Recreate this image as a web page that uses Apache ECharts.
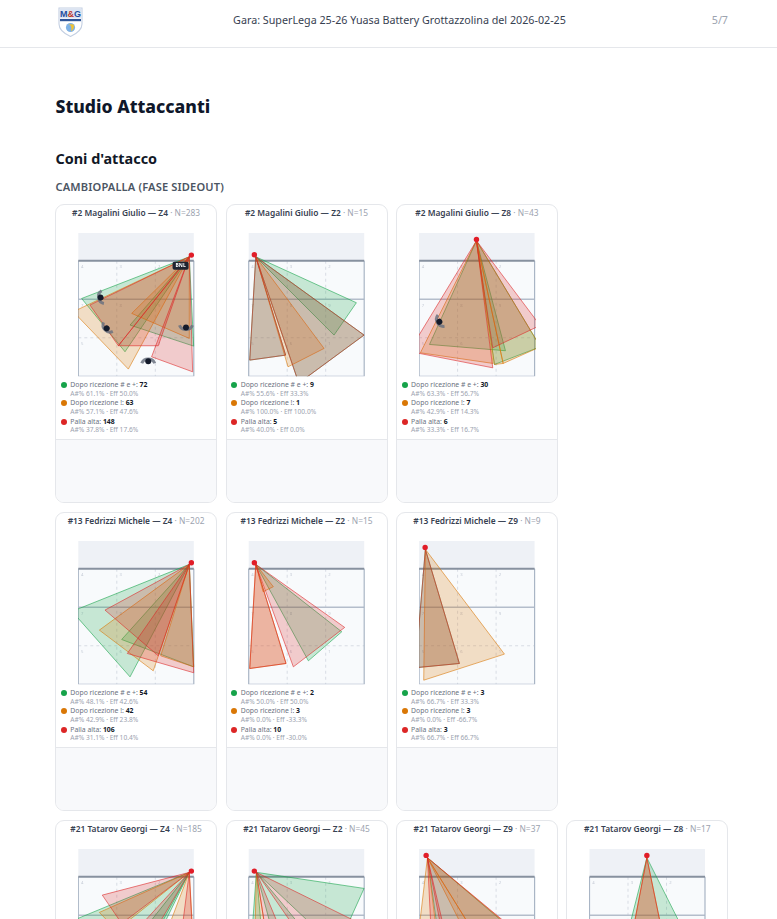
<!DOCTYPE html>
<html><head><meta charset="utf-8">
<script src="https://cdn.jsdelivr.net/npm/echarts@6/dist/echarts.min.js"></script>
<style>
html,body{margin:0;padding:0;width:777px;height:919px;overflow:hidden;background:#fff;font-family:"Noto Sans",sans-serif;}
.a{position:absolute;white-space:nowrap;}
#chart{position:absolute;left:0;top:0;width:777px;height:1120px;}
.card{position:absolute;box-sizing:border-box;width:162px;height:299px;border:1px solid #e5e7eb;border-radius:9px;background:#fff;overflow:hidden;}
.foot{position:absolute;left:0;right:0;top:234px;bottom:0;background:#f8f9fb;border-top:1px solid #e5e7eb;}
</style></head><body>
<div id="page"></div>
<div id="chart"></div>
<script>
// ---- page text ----
const matchTitle = "Gara: SuperLega 25-26 Yuasa Battery Grottazzolina del 2026-02-25";
const pageNo = "5/7";
const heading = "Studio Attaccanti";
const subHeading = "Coni d'attacco";
const phase = "CAMBIOPALLA (FASE SIDEOUT)";

// ---- cards ----
const playerNames = ["#2 Magalini Giulio","#2 Magalini Giulio","#2 Magalini Giulio","#13 Fedrizzi Michele","#13 Fedrizzi Michele","#13 Fedrizzi Michele","#21 Tatarov Georgi","#21 Tatarov Georgi","#21 Tatarov Georgi","#21 Tatarov Georgi"];
const zones = ["Z4","Z2","Z8","Z4","Z2","Z9","Z4","Z2","Z9","Z8"];
const totals = [283,15,43,202,15,9,185,45,37,17];
const cardCol = [0,1,2,0,1,2,0,1,2,3];
const cardRow = [0,0,0,1,1,1,2,2,2,2];

// ---- legend rows (only the first two rows of cards are inside the picture) ----
const rowLabels = ["Dopo ricezione # e +:","Dopo ricezione !:","Palla alta:"];
const seriesColors = ["#16a34a","#d97706","#dc2626"];
const counts = [[72,63,148],[9,1,5],[30,7,6],[54,42,106],[2,3,10],[3,3,3]];
const attackPct = [["61.1","57.1","37.8"],["55.6","100.0","40.0"],["63.3","42.9","33.3"],["48.1","42.9","31.1"],["50.0","0.0","0.0"],["66.7","0.0","66.7"]];
const effPct = [["50.0","47.6","17.6"],["33.3","100.0","0.0"],["56.7","14.3","16.7"],["42.6","23.8","10.4"],["50.0","-33.3","-30.0"],["33.3","-66.7","66.7"]];

// ---- court geometry in metres: x 0..9, y 0 = net, y 9 = end line ----
const courtX = [0,9];
const courtY = [-2.16,9];
const attackLineY = 3;
const deepLineY = 6;
const columnLinesX = [3,6];
const zoneLabels = [["4",0.3,0.47],["3",3.3,0.47],["2",6.3,0.47],["7",0.3,3.5],["8",3.3,3.5],["9",6.3,3.5],["5",0.3,6.5],["6",3.3,6.5],["1",6.3,6.5]];

// attacker position (dot) and cone apex per card
const dots  = [[8.81,-0.44],[0.44,-0.47],[4.47,-1.66],[8.81,-0.47],[0.44,-0.47],[0.47,-1.66],[8.81,-0.44],[0.44,-0.44],[0.55,-1.66],[4.47,-1.66]];
const apexes= [[8.65,-0.31],[0.55,-0.31],[4.47,-1.56],[8.65,-0.34],[0.55,-0.34],[0.49,-1.51],[8.65,-0.34],[0.60,-0.34],[0.65,-1.48],[4.47,-1.48]];

// cones per card: [x1,y1,x2,y2] far-edge of each cone
const conesGreen = [
 [[0.26,2.94,3.64,7.09],[4.03,5.01,8.99,6.65]],
 [[8.39,3.27,6.65,5.79],[8.99,5.79,3.90,9.53],[0.08,7.74,2.88,7.35]],
 [[0.81,6.52,6.73,7.01],[5.87,8.08,9.45,6.70]],
 [[-0.49,3.32,4.03,8.42],[3.38,5.51,8.99,7.64]],
 [[7.25,4.91,4.65,7.17]],
 [[-0.29,7.71,3.14,7.38]],
 [[-0.52,3.45,4.42,7.40],[4.57,4.81,5.84,5.40]],
 [[8.99,0.91,6.88,5.58],[0.13,6.10,1.17,6.10],[2.47,6.62,5.06,5.06]],
 [[1.64,5.58,8.96,5.58]],
 [[2.68,5.58,8.03,5.58]]
];
const conesOrange = [
 [[-0.39,3.97,3.90,8.44],[4.16,4.10,8.65,6.05]],
 [[5.87,6.83,3.06,8.26]],
 [[0.10,7.17,5.77,8.00],[5.87,8.08,6.55,8.00],[6.55,8.00,9.45,6.70]],
 [[1.64,4.78,5.84,7.95],[6.42,6.78,8.99,7.64]],
 [[1.92,1.40,1.12,1.79],[0.08,7.77,2.91,7.38]],
 [[6.65,6.65,0.36,8.68]],
 [[1.64,2.78,2.99,4.16],[6.62,5.00,8.99,5.60]],
 [[0.44,6.62,1.69,6.62]],
 [[-0.18,5.58,1.51,5.58],[4.23,5.58,5.04,5.58],[5.04,5.58,8.91,5.45]],
 [[3.12,5.58,5.92,5.58]]
];
const conesRed = [
 [[0.91,3.45,3.12,6.62],[3.12,6.62,6.23,6.62],[5.71,7.48,8.91,8.65]],
 [[8.99,5.79,3.90,9.53],[0.08,7.74,2.88,7.35]],
 [[-0.78,7.06,5.74,8.34],[5.74,6.78,9.43,5.04]],
 [[2.08,3.22,6.23,6.78],[3.82,6.60,8.99,8.10]],
 [[7.48,4.57,3.48,7.64],[0.08,7.77,2.91,7.38]],
 [[-0.29,7.71,3.14,7.38]],
 [[1.87,1.43,3.38,3.64],[4.03,4.70,5.32,5.30],[7.79,6.36,8.99,6.36]],
 [[10.53,4.55,4.71,5.58],[1.69,6.62,3.51,6.62]],
 [[1.00,5.58,2.30,5.58],[2.03,5.58,9.17,5.58]],
 [[3.12,5.58,5.92,5.58]]
];
// defender silhouettes per card: [x,y,rotation degrees]
const defenders = [[[1.74,2.86,80],[2.21,5.27,45],[5.45,7.82,180],[8.39,5.19,0]],[],[[1.58,4.75,60]],[],[],[],[],[],[],[]];
// sponsor tag per card
const tagText = "BNL";
const tags = [[7.97,0.39],null,null,null,null,null,null,null,null,null];

// ---- page layout ----
const cardLeft = c => 55.1 + c*170.4;
const cardTop = r => 203.5 + r*308;
const plotLeft = c => 78.3 + c*170.4;
const plotTop = r => 233 + r*308;
const plotW = 115.5, plotH = 143.3;

const page = document.getElementById('page');
function add(html){ const d=document.createElement('div'); d.innerHTML=html; while(d.firstChild) page.appendChild(d.firstChild); }
add(`<div class="a" style="left:0;top:0;width:777px;height:47px;border-bottom:1px solid #e5e7eb;box-sizing:content-box"></div>`);
add(`<svg class="a" style="left:56px;top:6.5px" width="29" height="30" viewBox="0 0 29 30">
 <path d="M3 1 H26 V17 C26 23 20 27 14.5 29.5 C9 27 3 23 3 17 Z" fill="#fff" stroke="#c3cfe2" stroke-width="1.1"/>
 <rect x="3.5" y="1.5" width="22" height="10" fill="#dbe4f2"/>
 <text x="14.5" y="10" text-anchor="middle" font-family="Liberation Sans" font-weight="700" font-size="9" fill="#1f4e9e">M<tspan fill="#c0392b">&amp;</tspan>G</text>
 <rect x="4" y="12" width="21" height="2.2" fill="#2f5597"/>
 <circle cx="14.5" cy="20.5" r="4.6" fill="#7fb2e5"/><path d="M12.5 17 Q16.5 18.5 15.1 24.5 Q18.8 21.5 17.7 17.5 Z" fill="#f2c230"/>
</svg>`);
add(`<div class="a" style="left:0;width:799px;top:13px;text-align:center;font-size:10.72px;line-height:15px;color:#374151">${matchTitle}</div>`);
add(`<div class="a" style="right:49px;top:13px;font-size:10.72px;line-height:15px;color:#9ca3af">${pageNo}</div>`);
add(`<div class="a" style="left:55.5px;top:93px;font-size:17.6px;line-height:26px;font-weight:800;color:#0f172a">${heading}</div>`);
add(`<div class="a" style="left:55.5px;top:149px;font-size:14.4px;line-height:20px;font-weight:700;color:#111827">${subHeading}</div>`);
add(`<div class="a" style="left:55.5px;top:178.8px;font-size:11.1px;line-height:15px;font-weight:600;letter-spacing:.15px;color:#4b5563">${phase}</div>`);

playerNames.forEach((name,i)=>{
  const l=cardLeft(cardCol[i]), t=cardTop(cardRow[i]);
  let legend='';
  if(counts[i]){
    rowLabels.forEach((lab,k)=>{
      const y0=174.5+k*18.3;
      legend+=`<div class="a" style="left:4.7px;top:${y0+3}px;width:6px;height:6px;border-radius:50%;background:${seriesColors[k]}"></div>`+
        `<div class="a" style="left:14.2px;top:${y0}px;font-size:6.85px;line-height:12px;color:#6b7280">${lab} <b style="color:#111827;font-weight:700">${counts[i][k]}</b></div>`+
        `<div class="a" style="left:14.2px;top:${y0+9.5}px;font-size:6.6px;line-height:10px;color:#9ca3af">A#% ${attackPct[i][k]}% · Eff ${effPct[i][k]}%</div>`;
    });
  }
  add(`<div class="card" style="left:${l}px;top:${t}px">
   <div class="a" style="left:0;right:0;top:1.5px;text-align:center;font-size:8.4px;line-height:13px;font-weight:600;color:#374151">${name} — ${zones[i]} <span style="font-weight:400;color:#9ca3af">· N=${totals[i]}</span></div>
   ${legend}<div class="foot"></div></div>`);
});

// ---- ECharts ----
const chart = echarts.init(document.getElementById('chart'),null,{renderer:'canvas',width:777,height:1120});
const grids=[],xAxes=[],yAxes=[],series=[];

function courtItem(params,api){
  const p=(x,y)=>api.coord([x,y]);
  const tl=p(courtX[0],courtY[0]), nl=p(courtX[0],0), nr=p(courtX[1],0), bl=p(courtX[0],courtY[1]), br=p(courtX[1],courtY[1]);
  const kids=[];
  kids.push({type:'rect',shape:{x:tl[0],y:tl[1],width:nr[0]-tl[0],height:nl[1]-tl[1]},style:{fill:'#eef1f6'}});
  kids.push({type:'rect',shape:{x:nl[0],y:nl[1],width:nr[0]-nl[0],height:bl[1]-nl[1]},style:{fill:'#f8fafc'}});
  const dash={stroke:'#d8dce4',lineWidth:1,lineDash:[3,3]};
  columnLinesX.forEach(x=>{const a=p(x,0),b=p(x,courtY[1]);kids.push({type:'line',shape:{x1:a[0],y1:a[1],x2:b[0],y2:b[1]},style:dash});});
  {const a=p(courtX[0],deepLineY),b=p(courtX[1],deepLineY);kids.push({type:'line',shape:{x1:a[0],y1:a[1],x2:b[0],y2:b[1]},style:dash});}
  {const a=p(courtX[0],attackLineY),b=p(courtX[1],attackLineY);kids.push({type:'line',shape:{x1:a[0],y1:a[1],x2:b[0],y2:b[1]},style:{stroke:'#b4bdcb',lineWidth:1.4}});}
  kids.push({type:'polyline',shape:{points:[nl,bl,br,nr]},style:{stroke:'#a9b5c5',lineWidth:1.2,fill:null}});
  kids.push({type:'line',shape:{x1:nl[0],y1:nl[1],x2:nr[0],y2:nr[1]},style:{stroke:'#87919f',lineWidth:1.8}});
  zoneLabels.forEach(z=>{const a=p(z[1],z[2]);kids.push({type:'text',style:{x:a[0],y:a[1],text:z[0],fill:'#c4cad5',font:'4.2px "Noto Sans"',align:'center',verticalAlign:'middle'}});});
  return {type:'group',children:kids};
}
function coneItem(color){
  return function(params,api){
    const pts=[[api.value(0),api.value(1)],[api.value(2),api.value(3)],[api.value(4),api.value(5)]].map(q=>api.coord(q));
    return {type:'polygon',shape:{points:pts},style:{fill:color,fillOpacity:0.22,stroke:color,strokeOpacity:0.58,lineWidth:1,lineJoin:'round'}};
  };
}
function dotItem(params,api){
  const a=api.coord([api.value(0),api.value(1)]);
  return {type:'circle',shape:{cx:a[0],cy:a[1],r:2.7},style:{fill:'#e11d28'}};
}
function defenderItem(params,api){
  const a=api.coord([api.value(0),api.value(1)]);
  return {type:'group',x:a[0],y:a[1],rotation:-api.value(2)*Math.PI/180,children:[
    {type:'path',shape:{pathData:'M-6 -2 Q-4.5 2 0 2 Q4.5 2 6 -2',x:-6.5,y:-2.2,width:13,height:4.4},style:{fill:null,stroke:'#6b7280',lineWidth:3,opacity:.85}},
    {type:'circle',shape:{cx:0,cy:0,r:3},style:{fill:'#141b2b'}}
  ]};
}
function tagItem(params,api){
  const a=api.coord([api.value(0),api.value(1)]);
  return {type:'group',x:a[0],y:a[1],children:[
    {type:'rect',shape:{x:-8,y:-4,width:16,height:8,r:1.8},style:{fill:'#1f2430'}},
    {type:'text',style:{x:0,y:0,text:tagText,fill:'#fff',font:'700 5px "Noto Sans"',align:'center',verticalAlign:'middle'}}
  ]};
}

playerNames.forEach((_,i)=>{
  grids.push({left:plotLeft(cardCol[i]),top:plotTop(cardRow[i]),width:plotW,height:plotH,containLabel:false,show:false});
  xAxes.push({gridIndex:i,type:'value',min:courtX[0],max:courtX[1],show:false});
  yAxes.push({gridIndex:i,type:'value',min:courtY[0],max:courtY[1],inverse:true,show:false});
  const base={type:'custom',coordinateSystem:'cartesian2d',xAxisIndex:i,yAxisIndex:i,clip:true,silent:true,animation:false};
  series.push({...base,name:'court'+i,renderItem:courtItem,data:[[0,0]],encode:{x:0,y:1}});
  [[conesGreen,seriesColors[0]],[conesOrange,seriesColors[1]],[conesRed,seriesColors[2]]].forEach(([set,col],k)=>{
    series.push({...base,name:rowLabels[k]+i,renderItem:coneItem(col),
      data:set[i].map(c=>[apexes[i][0],apexes[i][1],c[0],c[1],c[2],c[3]]),
      dimensions:['ax','ay','x1','y1','x2','y2'],encode:{x:[0,2,4],y:[1,3,5]}});
  });
  if(defenders[i].length) series.push({...base,name:'def'+i,renderItem:defenderItem,data:defenders[i],encode:{x:0,y:1}});
  if(tags[i]) series.push({...base,name:'tag'+i,renderItem:tagItem,data:[tags[i]],encode:{x:0,y:1}});
  series.push({...base,clip:false,name:'dot'+i,renderItem:dotItem,data:[dots[i]],encode:{x:0,y:1}});
});
chart.setOption({animation:false,backgroundColor:'transparent',grid:grids,xAxis:xAxes,yAxis:yAxes,series});
</script>
</body></html>
